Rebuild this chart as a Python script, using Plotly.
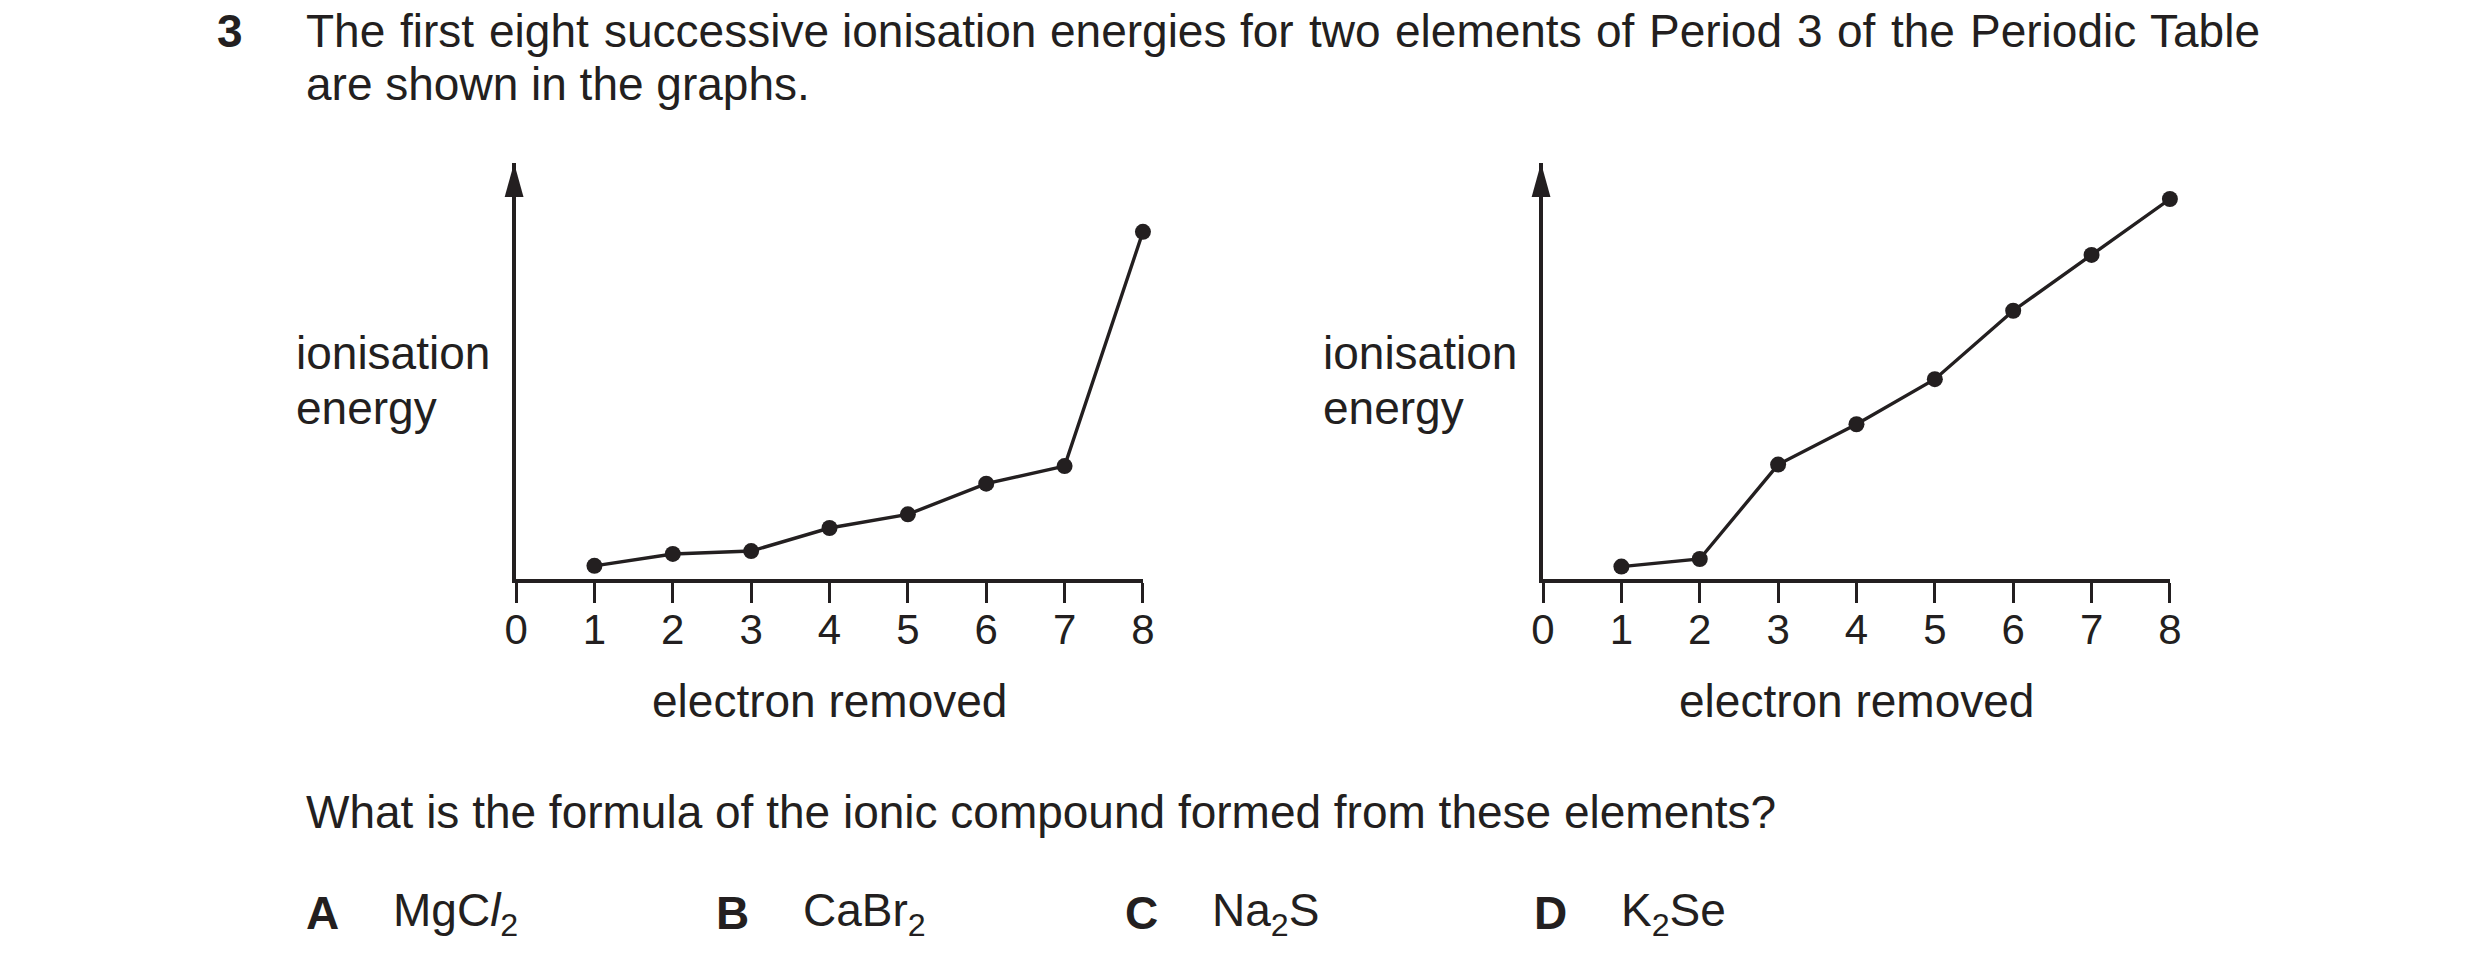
import plotly.graph_objects as go

# ---------------- data ----------------
electrons = [1, 2, 3, 4, 5, 6, 7, 8]
ie_left = [4.2, 7.5, 8.3, 14.7, 18.5, 27.0, 31.9, 96.9]
ie_right = [4.0, 6.1, 32.3, 43.5, 56.0, 75.0, 90.5, 106.0]
x_ticks = [0, 1, 2, 3, 4, 5, 6, 7, 8]
x_tick_labels = ["0", "1", "2", "3", "4", "5", "6", "7", "8"]
y_top = 116

question_number = "3"
intro_line1 = "The first eight successive ionisation energies for two elements of Period 3 of the Periodic Table"
intro_line2 = "are shown in the graphs."
y_label_lines = ["ionisation", "energy"]
x_label = "electron removed"
question = "What is the formula of the ionic compound formed from these elements?"
option_letters = ["A", "B", "C", "D"]
option_texts = ["MgC<i>l</i><sub>2</sub>", "CaBr<sub>2</sub>", "Na<sub>2</sub>S", "K<sub>2</sub>Se"]

# ---------------- layout helpers ----------------
W, H = 2480, 976
FONT = "Liberation Sans, Arial, Helvetica, sans-serif"
INK = "#231f20"
FS = 46


def px(x):
    return x / W


def py(y):
    return 1 - y / H


# Arial / Liberation Sans advance widths (per 1000 em) for justification
ADV = {"T": 611, "h": 556, "e": 556, "f": 278, "i": 222, "r": 333, "s": 500, "t": 278,
       "g": 556, "u": 556, "c": 500, "v": 500, "o": 556, "n": 556, "a": 556, "w": 722,
       "l": 222, "m": 833, "P": 667, "d": 556, "3": 556, "b": 556}


def word_w(wd):
    return sum(ADV.get(ch, 556) for ch in wd) * FS / 1000.0


TEXT_L = 295
TEXT_R = 2272

fig = go.Figure()

left_dom = [px(509), px(1142)]
right_dom = [px(1546), px(2179)]
y_dom = [py(579), py(163)]
y_low = 0.55  # puts value 0 on the centre of the 4px axis line

fig.add_trace(go.Scatter(x=electrons, y=ie_left, mode="lines+markers",
                         line=dict(color=INK, width=3.4),
                         marker=dict(size=16, color=INK),
                         cliponaxis=False, hoverinfo="skip",
                         xaxis="x", yaxis="y"))
fig.add_trace(go.Scatter(x=electrons, y=ie_right, mode="lines+markers",
                         line=dict(color=INK, width=3.4),
                         marker=dict(size=16, color=INK),
                         cliponaxis=False, hoverinfo="skip",
                         xaxis="x2", yaxis="y2"))

xcommon = dict(range=[0, 8], showline=True, linecolor=INK, linewidth=4,
               ticks="outside", ticklen=20, tickwidth=3.3, tickcolor=INK,
               tickvals=x_ticks, ticktext=x_tick_labels,
               tickfont=dict(family=FONT, size=42, color=INK),
               ticklabelstandoff=-9,
               showgrid=False, zeroline=False, fixedrange=True)
ycommon = dict(range=[y_low, y_top], showline=True, linecolor=INK, linewidth=4,
               showticklabels=False, ticks="", showgrid=False, zeroline=False,
               fixedrange=True, domain=y_dom)

fig.update_layout(
    xaxis=dict(domain=left_dom, anchor="y", **xcommon),
    yaxis=dict(anchor="x", **ycommon),
    xaxis2=dict(domain=right_dom, anchor="y2", **xcommon),
    yaxis2=dict(anchor="x2", **ycommon),
)

# arrowheads on the vertical axes
shapes = []
for xr, yr, dom in (("x domain", "y domain", left_dom), ("x2 domain", "y2 domain", right_dom)):
    half = 9.5 / ((dom[1] - dom[0]) * W)
    shift = -2.0 / ((dom[1] - dom[0]) * W)
    base = 1 - 34.0 / ((y_dom[1] - y_dom[0]) * H)
    shapes.append(dict(type="path", xref=xr, yref=yr,
                       path=f"M {shift - half} {base} L {shift} 1 L {shift + half} {base} Z",
                       fillcolor=INK, line=dict(width=0)))
fig.update_layout(shapes=shapes)

ann = []


def text(x, y, s, anchor="left", size=FS, bold=False, xref="paper"):
    ann.append(dict(x=x, y=py(y), xref=xref, yref="paper", text=(f"<b>{s}</b>" if bold else s),
                    showarrow=False, xanchor=anchor, yanchor="middle",
                    font=dict(family=FONT, size=size, color=INK)))


# question number and intro text (line 1 justified)
text(px(205), 31, question_number, bold=True)
words = intro_line1.split()
total = sum(word_w(w_) for w_ in words)
gap = (TEXT_R - TEXT_L - total) / (len(words) - 1)
xpos = TEXT_L
for w_ in words:
    text(px(xpos), 31, w_)
    xpos += word_w(w_) + gap
text(px(TEXT_L), 84, intro_line2)

# axis labels
for xl in (285, 1322):
    text(px(xl), 353, y_label_lines[0])
    text(px(xl), 408, y_label_lines[1])
text(4, 701, x_label, anchor="center", xref="x")
text(4, 701, x_label, anchor="center", xref="x2")

# question and options
text(px(TEXT_L), 812, question)
letter_x = [295, 709, 1122, 1535]
option_x = [383, 797, 1210, 1623]
for lx, ox, L, T in zip(letter_x, option_x, option_letters, option_texts):
    text(px(lx), 913, L, bold=True)
    text(px(ox), 913, T)

fig.update_layout(annotations=ann)

fig.update_layout(width=W, height=H, autosize=False,
                  margin=dict(l=0, r=0, t=0, b=0, pad=0),
                  paper_bgcolor="white", plot_bgcolor="white",
                  showlegend=False, font=dict(family=FONT, color=INK))

fig.write_html("out.html", config={"displayModeBar": False},
               post_script="document.body.style.margin='0';document.body.style.overflow='hidden';")
